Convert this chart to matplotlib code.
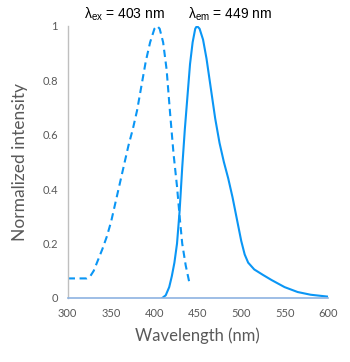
import matplotlib.pyplot as plt

# excitation spectrum (dashed)
ex_nm = [300, 322, 326, 330, 335, 340, 345, 350, 355, 360, 365, 370, 375, 380, 385,
         390, 395, 400, 403, 406, 410, 414, 418, 422, 426, 429, 432, 436, 440]
ex_int = [0.072, 0.072, 0.08, 0.10, 0.14, 0.18, 0.225, 0.28, 0.35, 0.42, 0.49, 0.56,
          0.62, 0.69, 0.78, 0.87, 0.94, 0.99, 1.0, 0.99, 0.94, 0.84, 0.68, 0.53, 0.41,
          0.30, 0.20, 0.12, 0.06]

# emission spectrum (solid)
em_nm = [409, 413, 417, 420, 423, 426, 429, 432, 435, 438, 441, 444, 447, 449, 452,
         456, 460, 465, 470, 475, 480, 485, 490, 495, 500, 504, 508, 515, 525, 535,
         550, 565, 580, 600]
em_int = [0.0, 0.01, 0.04, 0.08, 0.13, 0.20, 0.32, 0.48, 0.62, 0.74, 0.86, 0.94, 0.99,
          1.0, 0.99, 0.95, 0.88, 0.77, 0.66, 0.57, 0.50, 0.44, 0.37, 0.29, 0.21, 0.16,
          0.13, 0.105, 0.085, 0.066, 0.04, 0.022, 0.012, 0.005]

x_ticks = [300, 350, 400, 450, 500, 550, 600]
y_ticks = [0, 0.2, 0.4, 0.6, 0.8, 1]
y_tick_labels = ["0", "0.2", "0.4", "0.6", "0.8", "1"]

blue = "#0a96f5"
plt.rcParams["font.family"] = ["Lato", "DejaVu Sans"]

fig = plt.figure(figsize=(3.5, 3.62), dpi=100)
ax = fig.add_axes([0.1934, 0.1768, 0.7437, 0.7514])

ln, = ax.plot(ex_nm, ex_int, color=blue, lw=1.5)
ln.set_dashes([3.5, 2.2])
ax.plot(em_nm, em_int, color=blue, lw=1.5)

ax.set_xlim(300, 600)
ax.set_ylim(0, 1)
ax.set_xticks(x_ticks)
ax.set_yticks(y_ticks)
ax.set_yticklabels(y_tick_labels)
ax.tick_params(length=0, labelsize=8, colors="#595959", pad=7)

for s in ["top", "right"]:
    ax.spines[s].set_visible(False)
ax.spines["left"].set_color("#bfbfbf")
ax.spines["left"].set_linewidth(1.0)
ax.spines["bottom"].set_color("#8db3e2")
ax.spines["bottom"].set_linewidth(1.2)

ax.set_xlabel("Wavelength (nm)", fontsize=12, color="#595959", labelpad=6)
ax.set_ylabel("Normalized intensity", fontsize=12.5, color="#595959", labelpad=10)

fig.text(124 / 350, 1 - 14 / 362, r"λ$_{\mathregular{ex}}$ = 403 nm", ha="center", va="center",
         fontsize=10, family=["Liberation Sans", "DejaVu Sans"])
fig.text(230 / 350, 1 - 14 / 362, r"λ$_{\mathregular{em}}$ = 449 nm", ha="center", va="center",
         fontsize=10, family=["Liberation Sans", "DejaVu Sans"])

fig.savefig("out.png", dpi=100)
